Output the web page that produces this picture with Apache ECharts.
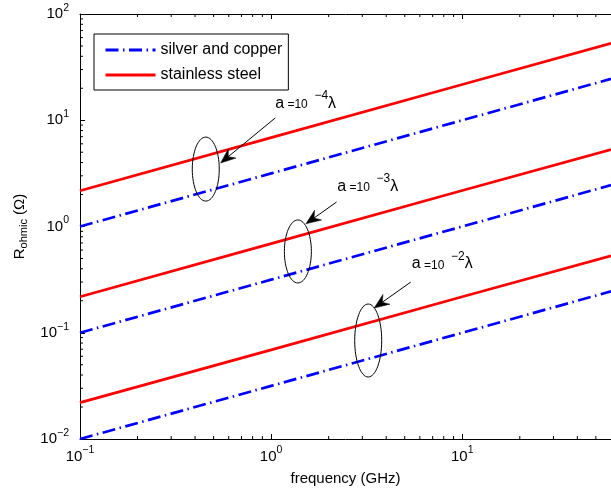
<!DOCTYPE html>
<html>
<head>
<meta charset="utf-8">
<script src="https://cdn.jsdelivr.net/npm/echarts@6/dist/echarts.min.js"></script>
<style>
  html, body { margin: 0; padding: 0; background: #fff; }
  #chart { width: 611px; height: 493px; }
</style>
</head>
<body>
<div id="chart"></div>
<script>
// Ohmic resistance of a wire vs. frequency, for three wire radii a (in wavelengths)
const frequencyGHz = [0.1, 1, 10, 60];

const silverA4 = [1.0, 3.16, 10.0, 24.5];
const steelA4  = [2.17, 6.86, 21.7, 53.0];
const silverA3 = [0.1, 0.316, 1.0, 2.45];
const steelA3  = [0.218, 0.69, 2.18, 5.3];
const silverA2 = [0.01, 0.0316, 0.1, 0.245];
const steelA2  = [0.022, 0.069, 0.218, 0.53];

const seriesNames = ['silver and copper', 'stainless steel'];

// axis ranges and tick values
const xRange = [0.1, 60];
const yRange = [0.01, 100];
const xMinorTicks = [0.2, 0.3, 0.4, 0.5, 0.6, 0.7, 0.8, 0.9,
                     2, 3, 4, 5, 6, 7, 8, 9, 20, 30, 40, 50];
const yMinorTicks = [0.02, 0.03, 0.04, 0.05, 0.06, 0.07, 0.08, 0.09,
                     0.2, 0.3, 0.4, 0.5, 0.6, 0.7, 0.8, 0.9,
                     2, 3, 4, 5, 6, 7, 8, 9,
                     20, 30, 40, 50, 60, 70, 80, 90];

// callouts: ellipse centre, arrow tail, arrow tip, label anchor (all in data units), exponent of a/λ
const calloutEllipseF = [0.455, 1.38, 3.22];
const calloutEllipseR = [3.47, 0.582, 0.0845];
const calloutTailF = [1.05, 2.20, 5.38];
const calloutTailR = [10.5, 1.70, 0.30];
const calloutTipF = [0.544, 1.52, 3.46];
const calloutTipR = [3.96, 1.06, 0.171];
const calloutTextF = [1.05, 2.22, 5.44];
const calloutTextR = [14.5, 2.40, 0.443];
const calloutExponent = [-4, -3, -2];
const calloutEllipseRy = [32, 31.5, 36.5];

const FONT = 'Liberation Sans, Arial, Helvetica, sans-serif';
const BLUE = '#0000ff';
const RED = '#ff0000';
const DASHDOT = [13, 4.5, 1.5, 4.5];

function pairs(xs, ys) { return xs.map((x, i) => [x, ys[i]]); }

function powLabel(v) {
  const e = Math.round(Math.log10(v));
  const s = e < 0 ? '\u2212' + (-e) : String(e);
  return '{b|10}{s|' + s + '}';
}
const powRich = {
  b: { fontSize: 15, fontFamily: FONT, color: '#000' },
  s: { fontSize: 10.5, fontFamily: FONT, color: '#000', padding: [0, 0, 12, 0] }
};

function lineSeries(name, values, color, dashed) {
  return {
    type: 'line', name: name, data: pairs(frequencyGHz, values),
    xAxisIndex: 0, yAxisIndex: 0,
    symbol: 'none', silent: true, animation: false,
    lineStyle: { color: color, width: 2.7, type: dashed ? DASHDOT : 'solid' },
    itemStyle: { color: color },
    z: 3
  };
}

const chart = echarts.init(document.getElementById('chart'), null, { renderer: 'canvas' });

const option = {
  animation: false,
  backgroundColor: '#fff',
  grid: { left: 80, top: 14, right: -5, bottom: 54, containLabel: false },
  legend: {
    left: 94, top: 34, orient: 'vertical',
    data: seriesNames,
    itemWidth: 50, itemHeight: 14, itemGap: 9,
    padding: [8, 6, 7, 10],
    borderColor: '#000', borderWidth: 1, borderRadius: 0,
    backgroundColor: '#fff',
    selectedMode: false,
    itemStyle: { opacity: 0 },
    lineStyle: { width: 3 },
    textStyle: { fontSize: 16, fontFamily: FONT, color: '#000' },
    z: 10
  },
  xAxis: [
    {
      type: 'log', logBase: 10, min: xRange[0], max: xRange[1], position: 'bottom',
      axisLine: { show: true, lineStyle: { color: '#000', width: 1 } },
      axisTick: { show: true, inside: true, length: 5, lineStyle: { color: '#000' } },
      splitLine: { show: false },
      axisLabel: { formatter: powLabel, rich: powRich, margin: 6, showMaxLabel: false, showMinLabel: true },
      name: 'frequency (GHz)', nameLocation: 'middle', nameGap: 32,
      nameTextStyle: { fontSize: 15, fontFamily: FONT, color: '#000' }
    },
    {
      type: 'log', logBase: 10, min: xRange[0], max: xRange[1], position: 'top',
      axisLine: { show: true, lineStyle: { color: '#000', width: 1 } },
      axisTick: { show: true, inside: true, length: 5, lineStyle: { color: '#000' } },
      splitLine: { show: false },
      axisLabel: { show: false }
    }
  ],
  yAxis: [
    {
      type: 'log', logBase: 10, min: yRange[0], max: yRange[1], position: 'left',
      axisLine: { show: true, lineStyle: { color: '#000', width: 1 } },
      axisTick: { show: true, inside: true, length: 5, lineStyle: { color: '#000' } },
      splitLine: { show: false },
      axisLabel: { formatter: powLabel, rich: powRich, margin: 11 },
      name: '{r|R}{sub|ohmic}{r| (\u03A9)}', nameLocation: 'middle', nameGap: 48, nameRotate: 90,
      nameTextStyle: {
        fontSize: 15, fontFamily: FONT, color: '#000',
        rich: {
          r: { fontSize: 15, fontFamily: FONT, color: '#000' },
          sub: { fontSize: 11, fontFamily: FONT, color: '#000', padding: [9, 0, 0, 0] }
        }
      }
    }
  ],
  series: [
    lineSeries(seriesNames[0], silverA4, BLUE, true),
    lineSeries(seriesNames[1], steelA4, RED, false),
    lineSeries(seriesNames[0], silverA3, BLUE, true),
    lineSeries(seriesNames[1], steelA3, RED, false),
    lineSeries(seriesNames[0], silverA2, BLUE, true),
    lineSeries(seriesNames[1], steelA2, RED, false),
    {
      // minor ticks on the bottom and top frequency axes
      type: 'custom', silent: true, animation: false, clip: false,
      xAxisIndex: 0, yAxisIndex: 0,
      data: xMinorTicks.map(f => [f, yRange[0]]),
      renderItem: function (params, api) {
        const f = api.value(0);
        const b = api.coord([f, yRange[0]]);
        const t = api.coord([f, yRange[1]]);
        const st = { stroke: '#000', lineWidth: 1 };
        return { type: 'group', children: [
          { type: 'line', shape: { x1: b[0], y1: b[1], x2: b[0], y2: b[1] - 3 }, style: st },
          { type: 'line', shape: { x1: t[0], y1: t[1], x2: t[0], y2: t[1] + 3 }, style: st }
        ] };
      },
      z: 4
    },
    {
      // minor ticks on the resistance axis
      type: 'custom', silent: true, animation: false, clip: false,
      xAxisIndex: 0, yAxisIndex: 0,
      data: yMinorTicks.map(r => [xRange[0], r]),
      renderItem: function (params, api) {
        const p = api.coord([xRange[0], api.value(1)]);
        return { type: 'line', shape: { x1: p[0], y1: p[1], x2: p[0] + 3, y2: p[1] },
                 style: { stroke: '#000', lineWidth: 1 } };
      },
      z: 4
    },
    {
      // callouts: ellipse around each pair of lines, arrow and radius label
      type: 'custom', silent: true, animation: false, clip: false,
      xAxisIndex: 0, yAxisIndex: 0,
      data: calloutExponent.map((e, i) => [
        calloutEllipseF[i], calloutEllipseR[i], calloutTailF[i], calloutTailR[i],
        calloutTipF[i], calloutTipR[i], calloutTextF[i], calloutTextR[i], e, calloutEllipseRy[i]
      ]),
      renderItem: function (params, api) {
        const c = api.coord([api.value(0), api.value(1)]);
        const tail = api.coord([api.value(2), api.value(3)]);
        const tip = api.coord([api.value(4), api.value(5)]);
        const lab = api.coord([api.value(6), api.value(7)]);
        const e = api.value(8);
        const ry = api.value(9);
        let dx = tip[0] - tail[0], dy = tip[1] - tail[1];
        const len = Math.sqrt(dx * dx + dy * dy);
        dx /= len; dy /= len;
        const nx = -dy, ny = dx;
        const L = 15, W = 6, N = 5;
        const back = [tip[0] - dx * L, tip[1] - dy * L];
        const notch = [tip[0] - dx * (L - N), tip[1] - dy * (L - N)];
        const head = [
          tip,
          [back[0] + nx * W, back[1] + ny * W],
          notch,
          [back[0] - nx * W, back[1] - ny * W]
        ];
        return { type: 'group', children: [
          { type: 'ellipse', shape: { cx: c[0], cy: c[1], rx: 13.5, ry: ry },
            style: { stroke: '#000', lineWidth: 1, fill: null } },
          { type: 'line', shape: { x1: tail[0], y1: tail[1], x2: notch[0], y2: notch[1] },
            style: { stroke: '#000', lineWidth: 1 } },
          { type: 'polygon', shape: { points: head }, style: { fill: '#000', stroke: '#000', lineWidth: 0.5 } },
          { type: 'text', x: lab[0], y: lab[1], style: {
              text: '{a|a} {m|=10}  {s|\u2212' + (-e) + '}{l|\u03BB}',
              fontSize: 12, fontFamily: FONT, fill: '#000',
              align: 'left', verticalAlign: 'middle',
              rich: {
                a: { fontSize: 16, fontFamily: FONT, fill: '#000' },
                m: { fontSize: 12, fontFamily: FONT, fill: '#000', padding: [3, 0, 0, 0] },
                s: { fontSize: 12, fontFamily: FONT, fill: '#000', padding: [0, 0, 14, 0] },
                l: { fontSize: 16, fontFamily: FONT, fill: '#000' }
              }
          } }
        ] };
      },
      z: 6
    }
  ]
};

chart.setOption(option);
</script>
</body>
</html>
